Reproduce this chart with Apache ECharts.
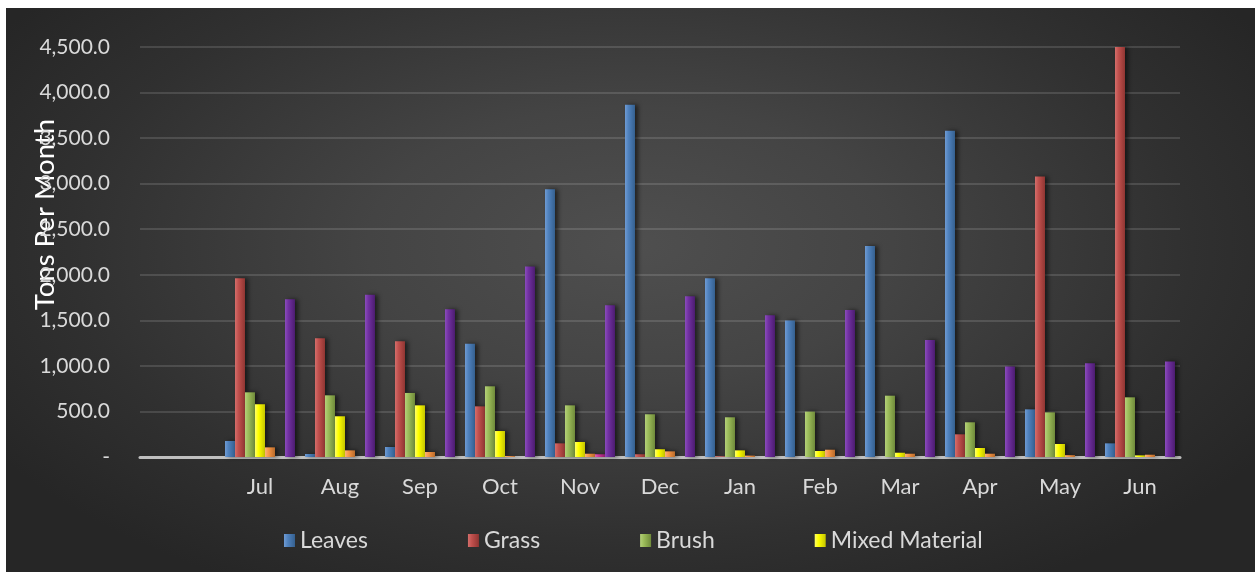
<!DOCTYPE html>
<html>
<head>
<meta charset="utf-8">
<script src="https://cdn.jsdelivr.net/npm/echarts@6/dist/echarts.min.js"></script>
<style>
html,body{margin:0;padding:0;background:#ffffff;width:1255px;height:572px;overflow:hidden;}
#wrap{position:absolute;left:6px;top:8px;width:1249px;height:564px;
background:radial-gradient(ellipse 60% 70% at 50% 42%, #4f4f4f 0%, #444444 35%, #303030 75%, #262626 100%);}
#chart{width:1249px;height:564px;}
</style>
</head>
<body>
<div id="wrap"><div id="chart"></div></div>
<script>
const categories = ['', 'Jul', 'Aug', 'Sep', 'Oct', 'Nov', 'Dec', 'Jan', 'Feb', 'Mar', 'Apr', 'May', 'Jun'];
const leaves   = [null, 176, 33, 110, 1244, 2940, 3865, 1962, 1497, 2315, 3580, 523, 150];
const grass    = [null, 1962, 1303, 1270, 556, 150, 30, 8, 0, 0, 249, 3078, 4500];
const brush    = [null, 710, 677, 703, 776, 567, 469, 436, 498, 673, 381, 490, 655];
const mixed    = [null, 579, 447, 567, 285, 165, 85, 73, 66, 47, 99, 143, 18];
const other1   = [null, 106, 73, 55, 10, 36, 62, 15, 80, 36, 36, 20, 25];
const other2   = [null, 0, 0, 0, 0, 30, 0, 0, 0, 0, 0, 0, 0];
const other3   = [null, 1732, 1782, 1621, 2090, 1665, 1764, 1556, 1614, 1285, 992, 1028, 1047];
const yTicks   = [0, 500, 1000, 1500, 2000, 2500, 3000, 3500, 4000, 4500];

const FONT = 'Lato';
const TXT = '#d9d9d9';

function grad(c1, c2, c3) {
  return new echarts.graphic.LinearGradient(0, 0, 1, 0, [
    {offset: 0, color: c1}, {offset: 0.35, color: c2}, {offset: 1, color: c3}
  ]);
}
function ser(name, data, c1, c2, c3) {
  return {
    name: name, type: 'bar', data: data, barWidth: 10, barGap: '0%',
    itemStyle: {color: grad(c1, c2, c3), shadowColor: 'rgba(0,0,0,0.55)', shadowBlur: 4, shadowOffsetX: 3, shadowOffsetY: 0}
  };
}

const chart = echarts.init(document.getElementById('chart'));
chart.setOption({
  animation: false,
  backgroundColor: 'transparent',
  textStyle: {fontFamily: FONT},
  grid: {left: 134, right: 75, top: 39, bottom: 115, containLabel: false},
  legend: {
    data: ['Leaves', 'Grass', 'Brush', 'Mixed Material'],
    left: 273, top: 516, itemWidth: 11, itemHeight: 13, itemGap: 100,
    icon: 'rect',
    textStyle: {color: TXT, fontSize: 23, fontFamily: FONT, padding: [0, 0, 0, 0]}
  },
  graphic: [{
    type: 'text', left: 25, top: 111, rotation: Math.PI / 2,
    style: {text: 'Tons Per Month', fill: '#ffffff', font: '27.5px ' + FONT}
  }],
  xAxis: {
    type: 'category', data: categories,
    axisLine: {show: true, lineStyle: {color: '#bfbfbf', width: 3}},
    axisTick: {show: false},
    axisLabel: {color: TXT, fontSize: 22, fontFamily: FONT, margin: 19},
    splitLine: {show: false}
  },
  yAxis: {
    type: 'value', min: 0, max: yTicks[yTicks.length - 1], interval: 500,
    axisLine: {show: false}, axisTick: {show: false},
    axisLabel: {
      color: TXT, fontSize: 21, fontFamily: FONT, margin: 30,
      formatter: function (v) {
        if (v === 0) return '-';
        return v.toLocaleString('en-US', {minimumFractionDigits: 1, maximumFractionDigits: 1});
      }
    },
    splitLine: {lineStyle: {color: 'rgba(255,255,255,0.13)', width: 2}}
  },
  series: [
    ser('Leaves', leaves, '#6f9bd3', '#4f81bd', '#35608f'),
    ser('Grass', grass, '#d46e6b', '#c0504d', '#8f3532'),
    ser('Brush', brush, '#b4d07a', '#9bbb59', '#6f8a3a'),
    ser('Mixed Material', mixed, '#ffff66', '#ffff00', '#c4c400'),
    ser('Other 1', other1, '#f9b27a', '#f79646', '#b86a2a'),
    ser('Other 2', other2, '#e060b0', '#cc3399', '#8f1f6a'),
    ser('Other 3', other3, '#8a4cbc', '#7030a0', '#4c1c70')
  ]
});
</script>
</body>
</html>
